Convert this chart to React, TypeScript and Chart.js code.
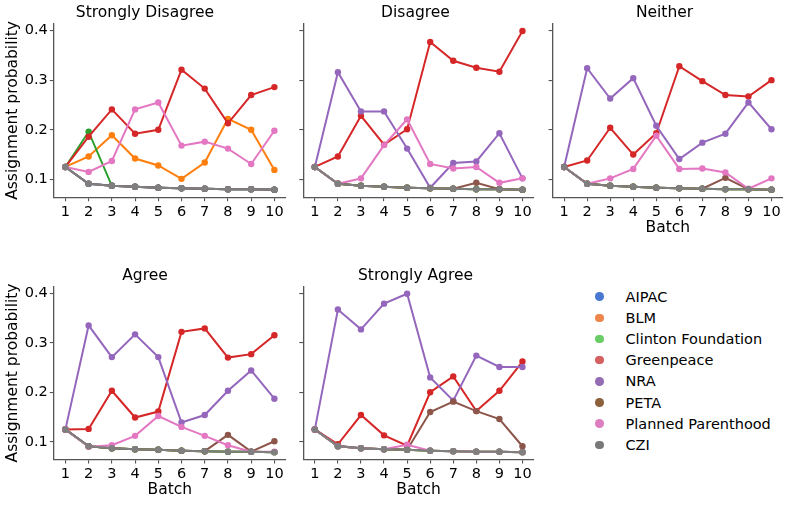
import { useEffect, useRef } from 'react';
import Chart from 'chart.js/auto';

const batches = [1, 2, 3, 4, 5, 6, 7, 8, 9, 10];
const yTicks = [0.1, 0.2, 0.3, 0.4];

const seriesNames = ['AIPAC', 'BLM', 'Clinton Foundation', 'Greenpeace', 'NRA', 'PETA', 'Planned Parenthood', 'CZI'];
const lineColors = ['#1f77b4', '#ff7f0e', '#2ca02c', '#d62728', '#9467bd', '#8c564b', '#e377c2', '#7f7f7f'];
const legendColors = ['#4878d0', '#ee854a', '#6acc64', '#d65f5f', '#956cb4', '#8c613c', '#dc7ec0', '#797979'];

// one row per organisation, same order as seriesNames
const stronglyDisagree = [
  [0.125, 0.091, 0.087, 0.085, 0.083, 0.082, 0.081, 0.080, 0.080, 0.079],
  [0.125, 0.146, 0.189, 0.142, 0.128, 0.101, 0.134, 0.222, 0.200, 0.119],
  [0.125, 0.196, 0.087, 0.085, 0.083, 0.082, 0.081, 0.080, 0.080, 0.079],
  [0.125, 0.186, 0.241, 0.192, 0.200, 0.321, 0.283, 0.213, 0.270, 0.286],
  [0.125, 0.091, 0.087, 0.085, 0.083, 0.082, 0.081, 0.080, 0.080, 0.079],
  [0.125, 0.091, 0.087, 0.085, 0.083, 0.082, 0.081, 0.080, 0.080, 0.079],
  [0.125, 0.115, 0.137, 0.241, 0.255, 0.168, 0.176, 0.162, 0.131, 0.198],
  [0.125, 0.091, 0.087, 0.085, 0.083, 0.082, 0.081, 0.080, 0.080, 0.079],
];

const disagree = [
  [0.125, 0.091, 0.087, 0.085, 0.083, 0.082, 0.081, 0.080, 0.080, 0.079],
  [0.125, 0.091, 0.087, 0.085, 0.083, 0.082, 0.081, 0.080, 0.080, 0.079],
  [0.125, 0.091, 0.087, 0.085, 0.083, 0.082, 0.081, 0.080, 0.080, 0.079],
  [0.125, 0.146, 0.228, 0.170, 0.201, 0.377, 0.339, 0.325, 0.317, 0.399],
  [0.125, 0.316, 0.237, 0.237, 0.162, 0.083, 0.133, 0.136, 0.193, 0.102],
  [0.125, 0.091, 0.087, 0.085, 0.083, 0.082, 0.081, 0.093, 0.080, 0.079],
  [0.125, 0.091, 0.102, 0.169, 0.221, 0.131, 0.122, 0.125, 0.093, 0.102],
  [0.125, 0.091, 0.087, 0.085, 0.083, 0.082, 0.081, 0.080, 0.080, 0.079],
];

const neither = [
  [0.125, 0.091, 0.087, 0.085, 0.083, 0.082, 0.081, 0.080, 0.080, 0.079],
  [0.125, 0.091, 0.087, 0.085, 0.083, 0.082, 0.081, 0.080, 0.080, 0.079],
  [0.125, 0.091, 0.087, 0.085, 0.083, 0.082, 0.081, 0.080, 0.080, 0.079],
  [0.125, 0.138, 0.204, 0.150, 0.193, 0.328, 0.298, 0.270, 0.267, 0.300],
  [0.125, 0.324, 0.263, 0.304, 0.208, 0.141, 0.174, 0.192, 0.255, 0.201],
  [0.125, 0.091, 0.087, 0.085, 0.083, 0.082, 0.081, 0.103, 0.080, 0.079],
  [0.125, 0.091, 0.102, 0.121, 0.188, 0.121, 0.122, 0.114, 0.081, 0.102],
  [0.125, 0.091, 0.087, 0.085, 0.083, 0.082, 0.081, 0.080, 0.080, 0.079],
];

const agree = [
  [0.125, 0.091, 0.087, 0.085, 0.084, 0.082, 0.081, 0.080, 0.080, 0.079],
  [0.125, 0.091, 0.087, 0.085, 0.084, 0.082, 0.081, 0.080, 0.080, 0.079],
  [0.125, 0.091, 0.087, 0.085, 0.084, 0.082, 0.081, 0.080, 0.080, 0.079],
  [0.125, 0.126, 0.203, 0.149, 0.161, 0.322, 0.329, 0.270, 0.277, 0.315],
  [0.125, 0.335, 0.271, 0.317, 0.271, 0.139, 0.154, 0.203, 0.244, 0.187],
  [0.125, 0.091, 0.087, 0.085, 0.084, 0.082, 0.081, 0.114, 0.080, 0.101],
  [0.125, 0.090, 0.093, 0.112, 0.152, 0.130, 0.112, 0.093, 0.080, 0.080],
  [0.125, 0.091, 0.087, 0.085, 0.084, 0.082, 0.081, 0.080, 0.080, 0.079],
];

const stronglyAgree = [
  [0.125, 0.091, 0.087, 0.085, 0.084, 0.082, 0.081, 0.080, 0.080, 0.079],
  [0.125, 0.091, 0.087, 0.085, 0.084, 0.082, 0.081, 0.080, 0.080, 0.079],
  [0.125, 0.091, 0.087, 0.085, 0.084, 0.082, 0.081, 0.080, 0.080, 0.079],
  [0.125, 0.095, 0.154, 0.113, 0.092, 0.200, 0.232, 0.162, 0.203, 0.262],
  [0.125, 0.367, 0.327, 0.379, 0.399, 0.230, 0.183, 0.274, 0.251, 0.251],
  [0.125, 0.092, 0.087, 0.085, 0.084, 0.160, 0.181, 0.162, 0.146, 0.091],
  [0.125, 0.091, 0.087, 0.085, 0.094, 0.082, 0.081, 0.080, 0.080, 0.079],
  [0.125, 0.091, 0.087, 0.085, 0.084, 0.082, 0.081, 0.080, 0.080, 0.079],
];

const FONT = 'DejaVu Sans';
const AXIS = '#555';

interface PanelProps {
  title: string;
  rows: number[][];
  left: number;
  top: number;
  width: number;
  height: number;
  yWidth: number;
  xHeight: number;
  titlePad: { top: number; bottom: number };
  yLabels: boolean;
  xTitle: boolean;
  xTitlePad: number;
}

function Panel(p: PanelProps) {
  const canvasRef = useRef<HTMLCanvasElement>(null);

  useEffect(() => {
    if (!canvasRef.current) return;
    const chart = new Chart(canvasRef.current, {
      type: 'line',
      data: {
        datasets: p.rows.map((vals, i) => ({
          label: seriesNames[i],
          data: vals.map((v, j) => ({ x: batches[j], y: v })),
          borderColor: lineColors[i],
          backgroundColor: lineColors[i],
          pointBackgroundColor: lineColors[i],
          pointBorderColor: lineColors[i],
          pointBorderWidth: 0,
          pointRadius: 3.2,
          borderWidth: 2,
          tension: 0,
          order: seriesNames.length - i,
        })),
      },
      options: {
        animation: false,
        responsive: false,
        maintainAspectRatio: false,
        layout: { padding: 0 },
        plugins: {
          legend: { display: false },
          tooltip: { enabled: false },
          title: {
            display: true,
            text: p.title,
            color: '#000',
            font: { family: FONT, size: 15.5, weight: 'normal' },
            padding: p.titlePad,
          },
        },
        scales: {
          x: {
            type: 'linear',
            min: 0.5,
            max: 10.5,
            afterBuildTicks: (s) => {
              s.ticks = batches.map((v) => ({ value: v }));
            },
            afterFit: (s) => {
              s.height = p.xHeight;
            },
            grid: { drawOnChartArea: false, drawTicks: true, tickLength: 4, color: AXIS, lineWidth: 1.1 },
            border: { display: true, color: AXIS, width: 1.3 },
            ticks: {
              color: '#000',
              font: { family: FONT, size: 14.5 },
              padding: 2,
              maxRotation: 0,
              autoSkip: false,
              callback: (v) => String(v),
            },
            title: {
              display: p.xTitle,
              text: 'Batch',
              color: '#000',
              font: { family: FONT, size: 15.5 },
              padding: { top: 0, bottom: p.xTitlePad },
            },
          },
          y: {
            type: 'linear',
            min: 0.064,
            max: 0.414,
            afterBuildTicks: (s) => {
              s.ticks = yTicks.map((v) => ({ value: v }));
            },
            afterFit: (s) => {
              s.width = p.yWidth;
            },
            grid: { drawOnChartArea: false, drawTicks: true, tickLength: 4, color: AXIS, lineWidth: 1.1 },
            border: { display: true, color: AXIS, width: 1.3 },
            ticks: {
              color: '#000',
              font: { family: FONT, size: 14.5 },
              padding: 2,
              callback: (v) => (p.yLabels ? Number(v).toFixed(1) : ''),
            },
            title: {
              display: p.yLabels,
              text: 'Assignment probability',
              color: '#000',
              font: { family: FONT, size: 15.5 },
              padding: { top: 4, bottom: 0 },
            },
          },
        },
      },
    });
    return () => chart.destroy();
  }, [p]);

  return (
    <canvas
      ref={canvasRef}
      width={p.width}
      height={p.height}
      style={{ position: 'absolute', left: p.left, top: p.top, width: p.width, height: p.height }}
    />
  );
}

const row1Pad = { top: 4, bottom: 1 };
const row2Pad = { top: 4, bottom: 0.7 };

const panels: PanelProps[] = [
  { title: 'Strongly Disagree', rows: stronglyDisagree, left: 0, top: 0, width: 290, height: 238, yWidth: 53.8, xHeight: 40.8, titlePad: row1Pad, yLabels: true, xTitle: false, xTitlePad: 1 },
  { title: 'Disagree', rows: disagree, left: 293, top: 0, width: 245, height: 238, yWidth: 10.3, xHeight: 40.8, titlePad: row1Pad, yLabels: false, xTitle: false, xTitlePad: 1 },
  { title: 'Neither', rows: neither, left: 542, top: 0, width: 245, height: 238, yWidth: 10.6, xHeight: 40.8, titlePad: row1Pad, yLabels: false, xTitle: true, xTitlePad: 1 },
  { title: 'Agree', rows: agree, left: 0, top: 263, width: 290, height: 238, yWidth: 53.8, xHeight: 41.4, titlePad: row2Pad, yLabels: true, xTitle: true, xTitlePad: 2 },
  { title: 'Strongly Agree', rows: stronglyAgree, left: 293, top: 263, width: 245, height: 238, yWidth: 10.3, xHeight: 41.4, titlePad: row2Pad, yLabels: false, xTitle: true, xTitlePad: 2 },
];

export default function App() {
  return (
    <div style={{ position: 'absolute', left: 0, top: 0, width: 789, height: 505, background: '#fff', fontFamily: FONT }}>
      {panels.map((p) => (
        <Panel key={p.title} {...p} />
      ))}
      <div style={{ position: 'absolute', left: 590, top: 286 }}>
        {seriesNames.map((name, i) => (
          <div key={name} style={{ display: 'flex', alignItems: 'center', height: 21.2, fontSize: 14.5, color: '#000' }}>
            <span
              style={{
                display: 'inline-block',
                width: 8.5,
                height: 8.5,
                borderRadius: '50%',
                background: legendColors[i],
                marginLeft: 5,
                marginRight: 22,
              }}
            />
            <span>{name}</span>
          </div>
        ))}
      </div>
    </div>
  );
}
